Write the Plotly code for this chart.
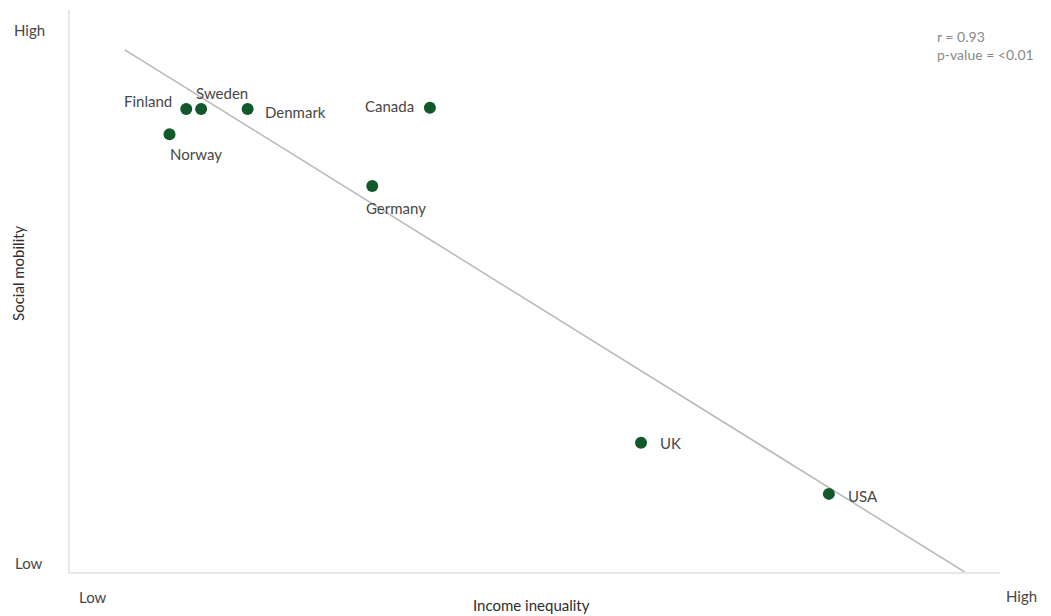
import plotly.graph_objects as go

countries = ["Finland", "Sweden", "Denmark", "Norway", "Canada", "Germany", "UK", "USA"]
income_inequality = [12.5, 14.1, 19.1, 10.7, 38.7, 32.5, 61.4, 81.6]
social_mobility = [82.4, 82.4, 82.4, 77.9, 82.6, 68.7, 23.0, 13.9]
trend_x = [5.9, 96.2]
trend_y = [92.9, 0.0]

label_pos = {
    "Finland": dict(xanchor="right", yanchor="middle", xshift=-12, yshift=8),
    "Sweden": dict(xanchor="center", yanchor="bottom", xshift=21, yshift=5),
    "Denmark": dict(xanchor="left", yanchor="middle", xshift=15, yshift=-3),
    "Norway": dict(xanchor="left", yanchor="top", xshift=-2, yshift=-9),
    "Canada": dict(xanchor="right", yanchor="middle", xshift=-14, yshift=2),
    "Germany": dict(xanchor="left", yanchor="top", xshift=-8, yshift=-11),
    "UK": dict(xanchor="left", yanchor="middle", xshift=17, yshift=0),
    "USA": dict(xanchor="left", yanchor="middle", xshift=17, yshift=-2),
}

FONT = "Lato, 'Open Sans', sans-serif"
TXT = "#474747"
LS = 15

fig = go.Figure()
fig.add_trace(go.Scatter(x=trend_x, y=trend_y, mode="lines",
                         line=dict(color="#b8b8b8", width=1.5), hoverinfo="skip"))
fig.add_trace(go.Scatter(x=income_inequality, y=social_mobility, mode="markers",
                         marker=dict(color="#11592a", size=12), text=countries))

annotations = []
for c, xv, yv in zip(countries, income_inequality, social_mobility):
    annotations.append(dict(x=xv, y=yv, xref="x", yref="y", text=c, showarrow=False,
                            font=dict(family=FONT, size=LS, color=TXT), **label_pos[c]))

annotations += [
    dict(x=-0.044, y=1.0, xref="paper", yref="paper", text="High", showarrow=False,
         xanchor="center", yanchor="middle", yshift=-20, font=dict(family=FONT, size=LS, color=TXT)),
    dict(x=-0.044, y=0.0, xref="paper", yref="paper", text="Low", showarrow=False,
         xanchor="center", yanchor="middle", yshift=9, font=dict(family=FONT, size=LS, color=TXT)),
    dict(x=0.025, y=0.0, xref="paper", yref="paper", text="Low", showarrow=False,
         xanchor="center", yanchor="middle", yshift=-25, font=dict(family=FONT, size=LS, color=TXT)),
    dict(x=1.0, y=0.0, xref="paper", yref="paper", text="High", showarrow=False,
         xanchor="center", yanchor="middle", yshift=-24, xshift=21, font=dict(family=FONT, size=LS, color=TXT)),
    dict(x=0.5, y=0.0, xref="paper", yref="paper", text="Income inequality", showarrow=False,
         xanchor="center", yanchor="middle", yshift=-33, xshift=-4, font=dict(family=FONT, size=LS, color="#2e2e2e")),
    dict(x=-0.056, y=0.532, xref="paper", yref="paper", text="Social mobility", showarrow=False,
         textangle=-90, xanchor="center", yanchor="middle", font=dict(family=FONT, size=LS, color="#2e2e2e")),
    dict(x=0.93, y=0.937, xref="paper", yref="paper", text="r = 0.93<br>p-value = <0.01",
         showarrow=False, xanchor="left", yanchor="middle", align="left",
         font=dict(family=FONT, size=14, color="#8a8a8a")),
]

fig.update_layout(
    width=1051, height=616,
    margin=dict(l=62, r=59, t=2, b=52),
    paper_bgcolor="white", plot_bgcolor="white",
    showlegend=False,
    annotations=annotations,
    xaxis=dict(range=[0, 100], showgrid=False, zeroline=False, showticklabels=False,
               ticks="", showline=True, linecolor="#e8e8e8", linewidth=2),
    yaxis=dict(range=[0, 100], showgrid=False, zeroline=False, showticklabels=False,
               ticks="", showline=True, linecolor="#e8e8e8", linewidth=2),
)

fig.write_html("out.html")
